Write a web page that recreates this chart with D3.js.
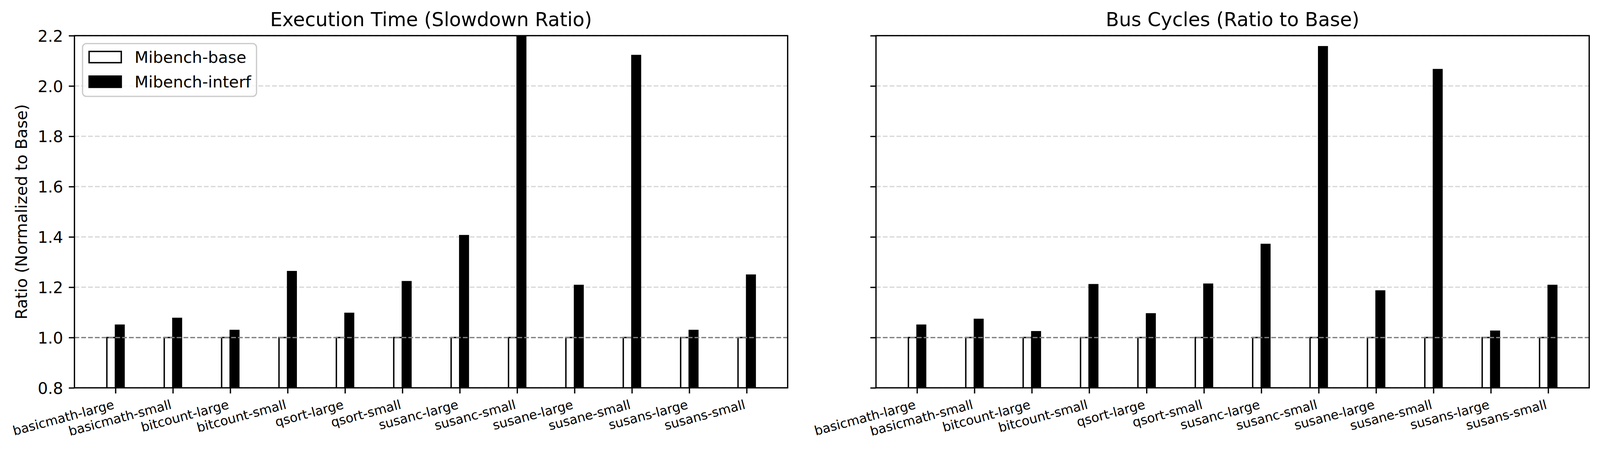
<!DOCTYPE html>
<html>
<head>
<meta charset="utf-8">
<script src="https://cdn.jsdelivr.net/npm/d3@7"></script>
<style>
  html, body { margin: 0; padding: 0; background: #fff; overflow: hidden; }
  svg { display: block; font-family: "DejaVu Sans", sans-serif; }
</style>
</head>
<body>
<svg id="chart" viewBox="0 0 4148 1168" preserveAspectRatio="xMinYMin meet" style="width:100vw;height:100vh"></svg>
<script>
// ---- data ----
const categories = ["basicmath-large", "basicmath-small", "bitcount-large", "bitcount-small",
  "qsort-large", "qsort-small", "susanc-large", "susanc-small", "susane-large", "susane-small",
  "susans-large", "susans-small"];
const execBase   = [1.0, 1.0, 1.0, 1.0, 1.0, 1.0, 1.0, 1.0, 1.0, 1.0, 1.0, 1.0];
const execInterf = [1.049, 1.076, 1.028, 1.262, 1.096, 1.222, 1.405, 2.28, 1.207, 2.121, 1.028, 1.248];
const busBase    = [1.0, 1.0, 1.0, 1.0, 1.0, 1.0, 1.0, 1.0, 1.0, 1.0, 1.0, 1.0];
const busInterf  = [1.049, 1.072, 1.023, 1.210, 1.094, 1.212, 1.370, 2.156, 1.185, 2.065, 1.025, 1.207];
const yTicks = [0.8, 1.0, 1.2, 1.4, 1.6, 1.8, 2.0, 2.2];
const seriesNames = ["Mibench-base", "Mibench-interf"];
const titles = ["Execution Time (Slowdown Ratio)", "Bus Cycles (Ratio to Base)"];
const yLabel = "Ratio (Normalized to Base)";

(function () {
// ---- layout ----
const svg = d3.select("#chart");
const PT = 300 / 72;
const lw = 0.8 * PT;
const barW = 0.15;
const axTop = 92.5, axBottom = 1006, axW = 1849;
const panels = [
  { left: 193, title: titles[0], base: execBase, interf: execInterf, labels: true, legend: true },
  { left: 2271, title: titles[1], base: busBase, interf: busInterf, labels: false, legend: false }
];
const y = d3.scaleLinear().domain([0.8, 2.2]).range([axBottom, axTop]);
const dash = `${3.7 * 0.8 * PT},${1.6 * 0.8 * PT}`;

panels.forEach((p, pi) => {
  const x = d3.scaleLinear().domain([-0.715, 11.715]).range([p.left, p.left + axW]);
  const g = svg.append("g");
  const clipId = "clip" + pi;
  svg.append("clipPath").attr("id", clipId).append("rect")
    .attr("x", p.left).attr("y", axTop).attr("width", axW).attr("height", axBottom - axTop);

  // grid
  g.append("g").selectAll("line").data(yTicks).join("line")
    .attr("x1", p.left).attr("x2", p.left + axW)
    .attr("y1", d => y(d)).attr("y2", d => y(d))
    .attr("stroke", "#d8d8d8").attr("stroke-width", lw)
    .attr("stroke-dasharray", dash);

  // bars
  const bars = g.append("g").attr("clip-path", `url(#${clipId})`);
  bars.selectAll("rect.base").data(p.base).join("rect").attr("class", "base")
    .attr("x", (d, i) => x(i - barW)).attr("width", x(barW) - x(0))
    .attr("y", d => y(d)).attr("height", d => y(0.5) - y(d))
    .attr("fill", "#fff").attr("stroke", "#000").attr("stroke-width", 3.6);
  bars.selectAll("rect.interf").data(p.interf).join("rect").attr("class", "interf")
    .attr("x", (d, i) => x(i)).attr("width", x(barW) - x(0))
    .attr("y", d => y(d)).attr("height", d => y(0.5) - y(d))
    .attr("fill", "#000").attr("stroke", "#000").attr("stroke-width", 3.6);

  // reference line at 1.0
  g.append("line")
    .attr("x1", p.left).attr("x2", p.left + axW)
    .attr("y1", y(1.0)).attr("y2", y(1.0))
    .attr("stroke", "#808080").attr("stroke-width", lw)
    .attr("stroke-dasharray", dash);

  // spines
  g.append("rect").attr("x", p.left).attr("y", axTop).attr("width", axW).attr("height", axBottom - axTop)
    .attr("fill", "none").attr("stroke", "#000").attr("stroke-width", lw);

  // y axis
  const yAxis = d3.axisLeft(y).tickValues(yTicks).tickSize(3.5 * PT).tickPadding(3.5 * PT)
    .tickFormat(p.labels ? d3.format(".1f") : () => "");
  const ya = g.append("g").attr("transform", `translate(${p.left},0)`).call(yAxis);
  ya.select(".domain").remove();
  ya.selectAll(".tick line").attr("stroke", "#000").attr("stroke-width", lw);
  ya.selectAll(".tick text").attr("font-size", 10 * PT).attr("fill", "#000")
    .attr("font-family", "DejaVu Sans").attr("dy", "0.36em");

  // x axis
  const xAxis = d3.axisBottom(x).tickValues(d3.range(categories.length)).tickSize(3.5 * PT)
    .tickFormat(i => categories[i]);
  const xa = g.append("g").attr("transform", `translate(0,${axBottom})`).call(xAxis);
  xa.select(".domain").remove();
  xa.selectAll(".tick line").attr("stroke", "#000").attr("stroke-width", lw);
  const fs = 8 * PT;
  const A = 0.76 * fs, D = 0.24 * fs, th = 15 * Math.PI / 180;
  const yTop = 7 * PT;
  xa.selectAll(".tick text")
    .attr("font-size", fs).attr("fill", "#000").attr("font-family", "DejaVu Sans")
    .attr("text-anchor", "end").attr("dy", null).attr("y", null)
    .attr("transform", `translate(${-D * Math.sin(th)},${yTop + A * Math.cos(th)}) rotate(-15)`);

  // title
  g.append("text").attr("x", p.left + axW / 2).attr("y", 68)
    .attr("text-anchor", "middle").attr("font-size", 12 * PT).attr("fill", "#000")
    .text(p.title);

  if (p.labels) {
    g.append("text")
      .attr("transform", `translate(70,${(axTop + axBottom) / 2}) rotate(-90)`)
      .attr("text-anchor", "middle").attr("font-size", 10 * PT).attr("fill", "#000")
      .text(yLabel);
  }

  if (p.legend) {
    const lg = g.append("g");
    lg.append("rect").attr("x", 214).attr("y", 113).attr("width", 451).attr("height", 137)
      .attr("rx", 10).attr("fill", "#fff").attr("fill-opacity", 0.8)
      .attr("stroke", "#cccccc").attr("stroke-width", lw);
    const rows = [{ name: seriesNames[0], fill: "#fff", cy: 148 }, { name: seriesNames[1], fill: "#000", cy: 212 }];
    rows.forEach(r => {
      lg.append("rect").attr("x", 231).attr("y", r.cy - 14.6).attr("width", 83.4).attr("height", 29.2)
        .attr("fill", r.fill).attr("stroke", "#000").attr("stroke-width", 3.6);
      lg.append("text").attr("x", 349).attr("y", r.cy).attr("dy", "0.36em")
        .attr("font-size", 10 * PT).attr("fill", "#000").text(r.name);
    });
  }
});
})();
</script>
</body>
</html>
